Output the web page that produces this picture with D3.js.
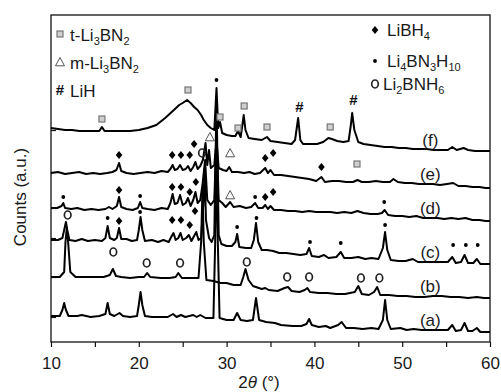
<!DOCTYPE html>
<html>
<head>
<meta charset="utf-8">
<script src="https://cdn.jsdelivr.net/npm/d3@7"></script>
<style>
  body { margin: 0; background: #fff; }
  svg { display: block; font-family: "Liberation Sans", Arial, Helvetica, sans-serif; }
</style>
</head>
<body>
<div id="chart"></div>
<script>
/* Stacked XRD patterns (a)-(f) with phase markers */

const patternNames = ["(a)", "(b)", "(c)", "(d)", "(e)", "(f)"];

// [2theta, counts (a.u.)], already offset for stacking
const patternA = [[10,26],[11,26],[11.3,32],[11.5,39],[11.7,32],[12,26],[13,26],[13.5,27],[14.5,25],[15.5,26],[16.2,28],[16.45,39],[16.7,28],[17.2,26],[17.8,29],[18.2,26],[19,25],[19.8,26],[20,37],[20.2,50],[20.4,37],[20.7,26],[21.5,25],[22.5,25],[23.3,25],[23.9,28],[24.3,25],[24.8,27],[25.3,25],[26.2,27],[26.6,25],[27,27],[27.6,24],[28.5,24],[28.7,100],[28.85,192],[29,100],[29.2,24],[30,22],[30.8,22],[31.2,29],[31.6,22],[32.3,21],[33,22],[33.35,44],[33.7,22],[34.5,20],[35.5,19],[36.2,17],[37.5,16],[38.5,16],[39.1,18],[39.4,23],[39.7,17],[40.5,15],[41.3,16],[41.8,14],[42.7,17],[43.1,20],[43.6,14],[44.5,14],[45.5,13],[46.5,14],[47.3,13],[47.8,22],[48.05,42],[48.3,22],[48.7,13],[49.8,14],[50.5,12],[51.3,13],[52.2,12],[53.2,12],[54.2,12],[55.2,12],[55.7,17],[56.1,11],[56.7,12],[57.1,19],[57.5,11],[58,11],[58.5,14],[58.9,10],[60,10]];
const patternB = [[10,65],[11,65],[11.5,70],[11.65,100],[11.8,114],[11.95,100],[12.2,70],[12.8,65],[14,65],[15,65],[16,65],[16.7,67],[17.05,73],[17.4,66],[18,65],[19,64],[20,65],[20.6,65],[20.95,69],[21.3,65],[22.5,64],[23.5,64],[24.2,65],[24.5,69],[24.9,64],[25.8,64],[26.8,64],[27.1,100],[27.25,152],[27.4,100],[27.7,62],[28.5,61],[29.3,59],[30,59],[30.8,57],[31.6,57],[31.9,65],[32.15,73],[32.5,62],[33,56],[34,53],[34.4,54],[34.8,52],[35.8,51],[36.6,54],[37,55],[37.4,51],[38.3,50],[38.9,52],[39.2,54],[39.5,50],[40.5,49],[41.5,49],[42.5,48],[43.5,48],[44.6,50],[45,56],[45.4,48],[46.2,47],[46.8,50],[47.15,55],[47.5,47],[48.5,47],[49.5,46],[50.5,46],[51.5,45],[52.5,45],[53.5,46],[54.5,46],[55.5,45],[56.5,45],[57.5,44],[58.5,45],[59.3,44],[60,44]];
const patternC = [[10,102],[10.8,102],[11.3,104],[11.55,114],[11.7,120],[11.85,112],[12.1,102],[12.8,101],[13.5,103],[14.2,101],[15,102],[15.8,101],[16.2,104],[16.45,116],[16.7,104],[17.2,102],[17.5,104],[17.75,114],[18,103],[18.6,103],[19.2,101],[19.8,102],[20,112],[20.2,125],[20.4,112],[20.7,101],[21.5,102],[22.2,100],[22.8,102],[23.4,100],[23.75,106],[23.95,109],[24.2,102],[24.5,104],[24.75,109],[25,102],[25.4,104],[25.7,107],[26,101],[26.3,106],[26.55,110],[26.8,102],[27.1,104],[27.35,137],[27.5,172],[27.65,122],[28,104],[28.3,100],[28.6,107],[28.85,242],[29.1,107],[29.4,98],[30,96],[30.6,96],[31,100],[31.2,108],[31.45,95],[32.2,94],[32.8,94],[33.1,102],[33.35,119],[33.6,100],[34,92],[34.6,92],[35.3,91],[36,89],[36.8,89],[37.6,88],[38.4,87],[39.1,88],[39.4,94],[39.7,86],[40.5,85],[41.1,87],[41.6,84],[42.5,85],[43,90],[43.4,84],[44.2,84],[45,85],[45.8,83],[46.5,84],[47.3,83],[47.8,94],[48.05,110],[48.3,92],[48.7,82],[49.6,81],[50.4,81],[51.2,83],[51.8,80],[52.6,80],[53.5,80],[54.3,80],[55.2,80],[55.7,85],[56.1,79],[56.7,80],[57.1,87],[57.5,79],[58.1,79],[58.5,83],[58.9,78],[59.5,78],[60,78]];
const patternD = [[10,134],[10.7,134],[11.2,136],[11.4,139],[11.6,134],[12.3,133],[13,134],[13.8,132],[14.6,133],[15.4,132],[16.2,133],[16.6,135],[17,133],[17.5,136],[17.75,145],[18,135],[18.6,133],[19.3,132],[19.9,134],[20.15,140],[20.4,134],[21,133],[21.8,132],[22.6,134],[23.3,133],[23.6,139],[23.85,148],[24.1,138],[24.4,139],[24.7,147],[25,137],[25.35,139],[25.6,144],[25.9,136],[26.2,142],[26.45,150],[26.7,139],[27,142],[27.25,157],[27.55,182],[27.8,142],[28.2,137],[28.6,142],[28.85,207],[29.1,142],[29.5,139],[29.9,135],[30.4,140],[30.8,135],[31.5,136],[32.2,134],[32.8,135],[33.25,139],[33.6,134],[34.1,134],[34.4,137],[34.7,133],[35,136],[35.4,132],[36.2,132],[37,131],[37.8,131],[38.6,130],[39.4,131],[40.2,130],[41,130],[41.8,130],[42.6,129],[43.4,130],[44.2,129],[44.9,131],[45.6,129],[46.4,128],[47.2,128],[47.7,129],[48,132],[48.4,127],[49.2,126],[50,126],[50.8,125],[51.6,126],[52.4,124],[53.2,124],[54,124],[54.8,123],[55.6,124],[56.4,123],[57.2,124],[58,122],[58.8,122],[59.5,121],[60,121]];
const patternE = [[10,169],[10.8,170],[11.6,168],[12.4,169],[13.2,170],[14,168],[14.8,169],[15.6,168],[16.4,169],[17,170],[17.45,172],[17.75,179],[18,171],[18.6,169],[19.4,168],[20.2,169],[21,170],[21.8,169],[22.6,171],[23.3,170],[23.6,173],[23.85,177],[24.1,172],[24.4,173],[24.7,177],[25,172],[25.35,173],[25.6,176],[25.9,171],[26.2,175],[26.45,180],[26.7,173],[27,176],[27.3,182],[27.6,199],[27.8,177],[28,192],[28.2,174],[28.6,177],[28.85,202],[29.1,174],[29.6,172],[30,171],[30.3,175],[30.6,170],[31.3,170],[32,169],[32.6,170],[33.2,168],[33.8,169],[34.4,174],[34.7,169],[35,172],[35.4,167],[36.2,167],[37,166],[37.8,165],[38.6,164],[39.4,163],[40.2,161],[40.8,165],[41.2,160],[42,161],[42.8,161],[43.6,160],[44.4,160],[44.9,162],[45.4,160],[46.2,160],[47,161],[47.8,160],[48.6,160],[49,163],[49.5,160],[50.3,159],[51.1,159],[51.9,158],[52.7,158],[53.5,158],[54.3,157],[55.1,158],[55.8,159],[56.4,156],[57.2,156],[58,155],[58.8,155],[59.5,154],[60,154]];
const patternF = [[10,214],[10.8,213],[11.6,212],[12.4,212],[13.2,211],[14,211],[14.8,211],[15.5,211],[15.8,215],[16.1,211],[17,211],[18,211],[19,211],[20,212],[21,214],[22,217],[23,224],[24,232],[24.6,237],[25,239],[25.5,242],[25.9,239],[26.3,235],[26.7,232],[27.1,227],[27.4,222],[27.8,217],[28.2,214],[28.6,212],[28.85,254],[29.05,214],[29.25,220],[29.5,209],[30,207],[30.6,206],[31,206],[31.3,211],[31.6,205],[31.8,217],[31.95,227],[32.15,212],[32.5,204],[33.2,203],[34,202],[34.6,205],[35,201],[35.8,200],[36.6,199],[37.4,198],[37.8,202],[38.15,224],[38.4,202],[38.7,198],[39.5,198],[40.3,198],[41,200],[41.6,204],[42,203],[42.6,201],[43.3,200],[43.9,201],[44.15,217],[44.3,229],[44.55,212],[45,200],[45.6,198],[46.4,197],[47.2,196],[48,195],[48.8,195],[49.6,194],[50.4,194],[51.2,193],[52,193],[52.8,193],[53.6,192],[54.4,192],[55.2,192],[55.7,195],[56.2,192],[57,194],[57.5,192],[58.3,191],[59.1,191],[60,191]];

const patterns = [patternA, patternB, patternC, patternD, patternE, patternF];

const xTicks = [10, 20, 30, 40, 50, 60];
const xMinorTicks = [15, 25, 35, 45, 55];
const yTicks = [25, 65, 104, 134, 170, 212];

// phase markers [2theta, counts]
const tLi3BN2 = [[15.8,223],[25.6,252],[29.25,225],[31.3,214],[32,236],[34.6,215],[41.8,215],[44.85,178]];
const mLi3BN2 = [[28.1,205],[30.4,189],[30.4,147]];
const liH = [[38.3,235],[44.45,242]];
const liBH4 = [[17.75,187],[23.8,187],[24.8,187],[25.8,187],[26.3,198],[34.4,184],[35.3,189],[40.8,175],
  [17.75,152],[23.8,155],[24.8,155],[25.8,150],[26.5,160],[34.4,145],[35.3,150],
  [17.75,121],[23.8,122],[24.8,122],[25.8,117],[26.4,131]];
const li4BN3H10 = [[28.85,262],[11.4,145],[20.15,146],[33.25,145],[47.95,140],
  [16.45,124],[20.15,130],[31.2,115],[33.4,124],[39.5,100],[43,99],[48.05,117],[55.8,97],[57.25,97],[58.6,97]];
const li2BNH6 = [[11.9,127],[27.2,189],[17.1,90],[20.9,79],[24.7,79],[32.3,80],[36.9,65],[39.4,65],[45.3,64],[47.4,64]];

const leftLegend = ["t-Li3BN2", "m-Li3BN2", "LiH"];
const rightLegend = ["LiBH4", "Li4BN3H10", "Li2BNH6"];

let width = 501,
  height = 392,
  margin = { top: 15, right: 11, bottom: 50, left: 51 };

const svg = d3
  .select("#chart")
  .append("svg")
  .attr("width", width)
  .attr("height", height);

let x = d3.scaleLinear().domain([10, 60]).range([margin.left, width - margin.right]);
let y = d3.scaleLinear().domain([0, 327]).range([height - margin.bottom, margin.top]);

// axes
let xAxis = svg
  .append("g")
  .attr("transform", `translate(0,${y(0)})`)
  .call(d3.axisBottom(x).tickValues(xTicks).tickSize(5).tickPadding(10).tickFormat(d3.format("d")));

svg
  .append("g")
  .attr("transform", `translate(0,${y(0)})`)
  .call(d3.axisBottom(x).tickValues(xMinorTicks).tickSize(5).tickFormat(""));

svg
  .append("g")
  .attr("transform", `translate(${x(10)},0)`)
  .call(d3.axisLeft(y).tickValues(yTicks).tickSize(-5).tickFormat(""));

svg.selectAll(".domain").remove();
svg.selectAll(".tick line").attr("stroke", "#111").attr("stroke-width", 1.2);
xAxis.selectAll("text").attr("font-size", 17).attr("fill", "#1a1a1a").attr("font-family", "Liberation Sans, Arial, sans-serif");

// frame
svg
  .append("rect")
  .attr("x", x(10))
  .attr("y", y(327))
  .attr("width", x(60) - x(10))
  .attr("height", y(0) - y(327))
  .attr("fill", "none")
  .attr("stroke", "#111")
  .attr("stroke-width", 1.3);

// axis labels
let xl = svg
  .append("text")
  .attr("x", 259)
  .attr("y", 388)
  .attr("text-anchor", "middle")
  .attr("font-size", 17)
  .attr("fill", "#1a1a1a");
xl.append("tspan").text("2");
xl.append("tspan").attr("font-style", "italic").text("θ");
xl.append("tspan").text(" (°)");

svg
  .append("text")
  .attr("transform", "translate(26,197) rotate(-90)")
  .attr("text-anchor", "middle")
  .attr("font-size", 17)
  .attr("fill", "#1a1a1a")
  .text("Counts (a.u.)");

// patterns
let line = d3
  .line()
  .x((d) => x(d[0]))
  .y((d) => y(d[1]));

patterns.forEach((p, i) => {
  svg
    .append("path")
    .datum(p)
    .attr("fill", "none")
    .attr("stroke", "#000")
    .attr("stroke-width", 2)
    .attr("stroke-linejoin", "round")
    .attr("d", line);

  // label sits just above the curve near 53 deg
  let near = p.reduce((a, b) => (Math.abs(b[0] - 53.2) < Math.abs(a[0] - 53.2) ? b : a));
  svg
    .append("text")
    .attr("x", x(53.2))
    .attr("y", y(near[1]) - 4)
    .attr("text-anchor", "middle")
    .attr("font-size", 17)
    .attr("fill", "#1a1a1a")
    .text(patternNames[i]);
});

// marker drawing helpers
function drawSquare(g, cx, cy) {
  g.append("rect")
    .attr("x", cx - 3)
    .attr("y", cy - 3)
    .attr("width", 6)
    .attr("height", 6)
    .attr("fill", "#cfcfcf")
    .attr("stroke", "#777")
    .attr("stroke-width", 1.2);
}
function drawTriangle(g, cx, cy) {
  g.append("path")
    .attr("d", `M${cx},${cy - 4.5}L${cx + 4.5},${cy + 3.8}L${cx - 4.5},${cy + 3.8}Z`)
    .attr("fill", "none")
    .attr("stroke", "#555")
    .attr("stroke-width", 1);
}
function drawHash(g, cx, cy) {
  g.append("text")
    .attr("x", cx)
    .attr("y", cy + 5)
    .attr("text-anchor", "middle")
    .attr("font-size", 15)
    .attr("font-weight", "bold")
    .attr("fill", "#111")
    .text("#");
}
function drawDiamond(g, cx, cy) {
  g.append("path")
    .attr("d", `M${cx},${cy - 4}L${cx + 3.3},${cy}L${cx},${cy + 4}L${cx - 3.3},${cy}Z`)
    .attr("fill", "#000");
}
function drawDot(g, cx, cy) {
  g.append("circle").attr("cx", cx).attr("cy", cy).attr("r", 1.9).attr("fill", "#000");
}
function drawO(g, cx, cy) {
  g.append("ellipse")
    .attr("cx", cx)
    .attr("cy", cy)
    .attr("rx", 3.3)
    .attr("ry", 4)
    .attr("fill", "none")
    .attr("stroke", "#222")
    .attr("stroke-width", 1.7);
}

const markerSets = [
  [tLi3BN2, drawSquare],
  [mLi3BN2, drawTriangle],
  [liH, drawHash],
  [liBH4, drawDiamond],
  [li4BN3H10, drawDot],
  [li2BNH6, drawO],
];

let marks = svg.append("g");
for (let [set, draw] of markerSets) {
  for (let d of set) draw(marks, x(d[0]), y(d[1]));
}

// legends, digits become subscripts
function addFormula(cx, cy, formula) {
  let t = svg
    .append("text")
    .attr("x", cx)
    .attr("y", cy)
    .attr("font-size", 17)
    .attr("fill", "#1a1a1a");
  formula.split(/(\d+)/).forEach((part, k) => {
    if (part === "") return;
    if (k % 2 === 1) {
      t.append("tspan").attr("font-size", 11).attr("dy", 4).text(part);
    } else {
      t.append("tspan").attr("dy", k > 0 ? -4 : 0).text(part);
    }
  });
}

let leftRows = [34, 62, 90];
let leftDraw = [drawSquare, drawTriangle, drawHash];
leftLegend.forEach((name, i) => {
  leftDraw[i](svg, 60, leftRows[i]);
  addFormula(70, leftRows[i] + 7, name);
});

let rightRows = [30, 61, 84];
let rightDraw = [drawDiamond, drawDot, drawO];
rightLegend.forEach((name, i) => {
  rightDraw[i](svg, 375, rightRows[i]);
  addFormula(i === 2 ? 383 : 387, rightRows[i] + 6, name);
});
</script>
</body>
</html>
